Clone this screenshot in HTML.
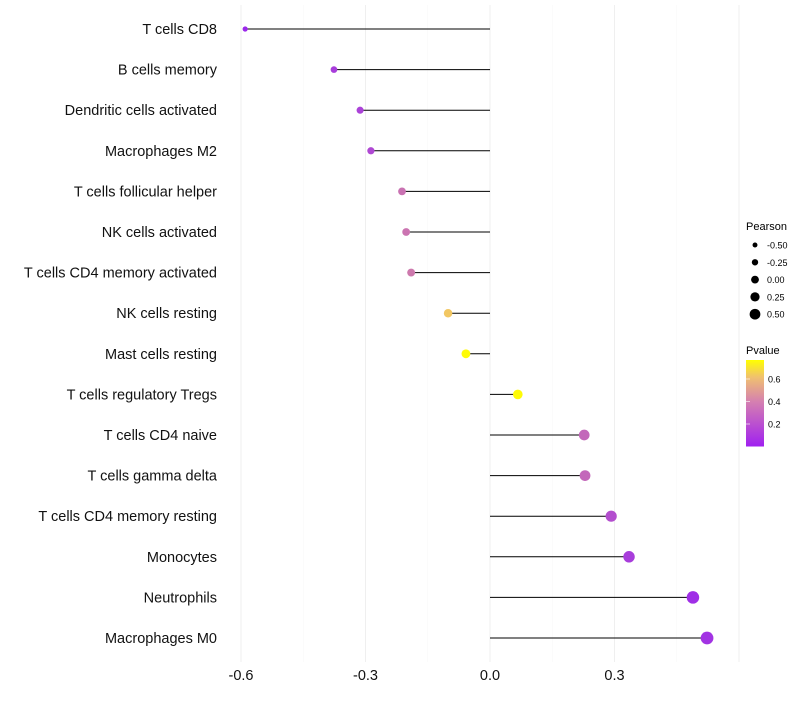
<!DOCTYPE html>
<html><head><meta charset="utf-8"><style>
body{margin:0;background:#fff;font-family:"Liberation Sans",sans-serif}
</style></head><body>
<svg id="chart" width="800" height="700" xmlns="http://www.w3.org/2000/svg" font-family="Liberation Sans, sans-serif">
<defs><linearGradient id="pg" x1="0" y1="1" x2="0" y2="0">
<stop offset="0" stop-color="#a020f0"/><stop offset="0.52" stop-color="#d580b0"/><stop offset="0.8" stop-color="#f0c070"/><stop offset="1" stop-color="#ffff00"/></linearGradient></defs>
<g id="grid"></g><g id="marks"></g><g id="labels"></g>
<g id="legend"></g>
</svg>
<script>
const cells=["T cells CD8","B cells memory","Dendritic cells activated","Macrophages M2","T cells follicular helper","NK cells activated","T cells CD4 memory activated","NK cells resting","Mast cells resting","T cells regulatory  Tregs ","T cells CD4 naive","T cells gamma delta","T cells CD4 memory resting","Monocytes","Neutrophils","Macrophages M0"];
const pearson=[-0.59,-0.376,-0.313,-0.287,-0.212,-0.202,-0.19,-0.101,-0.058,0.067,0.227,0.229,0.292,0.335,0.489,0.523];
const pvalue=[0.0,0.1,0.12,0.15,0.35,0.36,0.38,0.62,0.76,0.76,0.3,0.3,0.18,0.1,0.03,0.05];
const xTicks=[-0.6,-0.3,0.0,0.3];
const xTickLabels=["-0.6","-0.3","0.0","0.3"];
const sizeLegend=[-0.5,-0.25,0,0.25,0.5];
const sizeLegendLabels=["-0.50","-0.25","0.00","0.25","0.50"];
const pTicks=[0.2,0.4,0.6];
const pTickLabels=["0.2","0.4","0.6"];
const NS="http://www.w3.org/2000/svg";
const x=v=>490+v*415;
const y=i=>29+i*40.6;
const r=v=>Math.max(1.6,4.6+3.4*v);
function lerp(a,b,t){return a.map((c,i)=>Math.round(c+(b[i]-c)*t));}
function col(p){const stops=[[0,[155,40,235]],[0.4,[208,125,170]],[0.6,[240,192,112]],[0.77,[255,255,0]]];
for(let k=0;k<stops.length-1;k++){if(p<=stops[k+1][0]){const t=(p-stops[k][0])/(stops[k+1][0]-stops[k][0]);return 'rgb('+lerp(stops[k][1],stops[k+1][1],Math.max(0,t)).join(',')+')';}}return 'rgb(255,255,0)';}
function mk(tag,attrs,parent,text){const e=document.createElementNS(NS,tag);for(const k in attrs)e.setAttribute(k,attrs[k]);if(text!==undefined)e.textContent=text;document.getElementById(parent).appendChild(e);return e;}
for(let v=-0.6;v<=0.61;v+=0.15){const major=Math.abs(Math.round(v/0.3)*0.3-v)<1e-6;
const g=mk('line',{x1:x(v),x2:x(v),y1:5,y2:662,stroke:major?'#efefef':'#f7f7f7','stroke-width':major?1:0.6},'grid');

}
xTicks.forEach((v,i)=>{const t=mk('text',{x:x(v),y:680,'text-anchor':'middle','font-size':14.5,fill:'#111'},'labels',xTickLabels[i]);

});
cells.forEach((c,i)=>{
const l=mk('line',{x1:x(0),x2:x(pearson[i]),y1:y(i),y2:y(i),stroke:'#000','stroke-width':1},'marks');


const p=mk('circle',{cx:x(pearson[i]),cy:y(i),r:r(pearson[i]),fill:col(pvalue[i])},'marks');


const t=mk('text',{x:217,y:y(i)+5,'text-anchor':'end','font-size':14.5,fill:'#111'},'labels',c);

});
const lt=mk('text',{x:746,y:230,'font-size':11},'legend','Pearson');


sizeLegend.forEach((v,i)=>{const cy=245+i*17.3;
const c=mk('circle',{cx:755,cy:cy,r:r(v)*0.85,fill:'#000'},'legend');


const t=mk('text',{x:767,y:cy+3.5,'font-size':9},'legend',sizeLegendLabels[i]);

});
const pt=mk('text',{x:746,y:354,'font-size':11},'legend','Pvalue');


const bar=mk('rect',{x:746,y:360,width:18,height:86.5,fill:'url(#pg)'},'legend');


pTicks.forEach((v,i)=>{const yy=446.5-v*112.5;
const tk=mk('line',{x1:746,x2:750,y1:yy,y2:yy,stroke:'#fff','stroke-opacity':0.6},'legend');


const t=mk('text',{x:768,y:yy+3.5,'font-size':9},'legend',pTickLabels[i]);

});
</script>
</body></html>
